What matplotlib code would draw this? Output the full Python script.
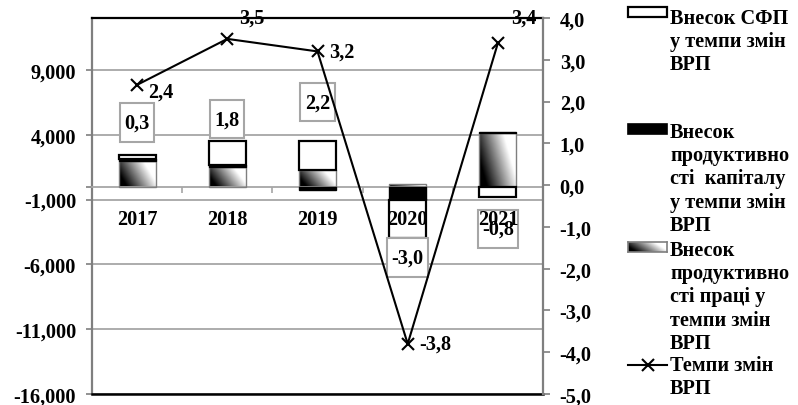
import numpy as np
import matplotlib
matplotlib.use("Agg")
import matplotlib.pyplot as plt
from matplotlib.patches import Rectangle
from matplotlib.lines import Line2D
from matplotlib.path import Path
from matplotlib.ticker import FuncFormatter

# values (percentage points)
years = ["2017", "2018", "2019", "2020", "2021"]
tfp = [0.3, 1.8, 2.2, -3.0, -0.8]          # Внесок СФП
capital = [0.1, 0.2, -0.3, -1.0, 0.1]      # Внесок продуктивності капіталу
labour = [2.0, 1.5, 1.3, 0.2, 4.1]         # Внесок продуктивності праці
grp_growth = [2.4, 3.5, 3.2, -3.8, 3.4]    # Темпи змін ВРП

left_ticks = [-16, -11, -6, -1, 4, 9]
right_ticks = [-5, -4, -3, -2, -1, 0, 1, 2, 3, 4]

# label placement (pixels), layout only
tfp_label_dy = [33, 22, 39, -19, -32]
growth_label_off = [(11, -7), (12, 21), (12, 0), (12, 0), (13, 25)]

W, H = 798, 406
FONT = "Liberation Serif"
FS = 14.6
GRID = "#a6a6a6"
AXC = "#7f7f7f"

plt.rcParams["font.family"] = [FONT, "DejaVu Serif"]
plt.rcParams["font.weight"] = "bold"


def comma(v, nd):
    return "{:.{}f}".format(v, nd).replace(".", ",")


def px2pt(p):
    return p * 72.0 / 100.0


def gradient(nx=60, ny=60):
    u = np.linspace(0, 1, nx)[None, :]
    v = np.linspace(0, 1, ny)[:, None]
    return np.clip(-0.25 + 1.35 * (0.85 * u + 0.35 * v), 0, 1)


def tall_box(x0, y0, width, height, mutation_size):
    # label box: narrow side padding, tall top/bottom padding
    padx, pady = 0.22 * mutation_size, 0.45 * mutation_size
    xa, xb = x0 - padx, x0 + width + padx
    ya, yb = y0 - pady, y0 + height + pady
    return Path([(xa, ya), (xb, ya), (xb, yb), (xa, yb), (xa, ya)], closed=True)


fig = plt.figure(figsize=(W / 100, H / 100), dpi=100)
ax = fig.add_axes([92 / W, 1 - 395 / H, (543 - 92) / W, (395 - 19) / H])
x = np.arange(len(years))
bw = 0.41

# stacked bars, positives and negatives stacked separately
pos_base = np.zeros(len(years))
neg_base = np.zeros(len(years))
containers = {}
for name, vals in [("labour", labour), ("capital", capital), ("tfp", tfp)]:
    vals = np.array(vals)
    bottoms = np.where(vals >= 0, pos_base, neg_base)
    if name == "labour":
        bars = ax.bar(x, vals, bw, bottom=bottoms, facecolor="none",
                      edgecolor=AXC, lw=1.0, zorder=3)
    elif name == "capital":
        bars = ax.bar(x, vals, bw, bottom=bottoms, facecolor="black",
                      edgecolor="black", lw=1.0, zorder=3)
    else:
        bars = ax.bar(x, vals, bw, bottom=bottoms, facecolor="white",
                      edgecolor="black", lw=1.6, zorder=3)
    containers[name] = bars
    pos_base = pos_base + np.where(vals >= 0, vals, 0)
    neg_base = neg_base + np.where(vals < 0, vals, 0)

# gradient fill for labour bars
for rect in containers["labour"]:
    x0, y0 = rect.get_xy()
    w, h = rect.get_width(), rect.get_height()
    im = ax.imshow(gradient(), extent=(x0, x0 + w, min(y0, y0 + h), max(y0, y0 + h)),
                   cmap="gray", vmin=0, vmax=1, aspect="auto", origin="lower",
                   interpolation="bicubic", zorder=2.5)
    im.set_clip_path(rect)

# TFP labels in boxes
for i, v in enumerate(tfp):
    end = pos_base[i] if v >= 0 else neg_base[i]
    ax.annotate(comma(v, 1), (i, end), xytext=(0, px2pt(tfp_label_dy[i])),
                textcoords="offset points", ha="center", va="center",
                fontsize=FS, fontweight="bold", zorder=6,
                bbox=dict(boxstyle=tall_box, fc="white", ec=GRID, lw=1.5))

ax.set_xlim(-0.5, len(years) - 0.5)
ax.set_ylim(-16, 13)
ax.set_yticks(left_ticks)
ax.set_yticks([0], minor=True)
ax.yaxis.set_major_formatter(FuncFormatter(lambda v, p: comma(v, 3)))
ax.yaxis.grid(True, color=GRID, lw=1.3)
ax.set_axisbelow(True)
ax.tick_params(axis="y", which="both", length=4.5, width=1.2, color=AXC, pad=7,
               labelsize=FS)
ax.tick_params(axis="y", which="minor", labelleft=False)

ax.set_xticks(x)
ax.set_xticklabels([])
ax.set_xticks(x[:-1] + 0.5, minor=True)
ax.tick_params(axis="x", which="major", length=0)
ax.tick_params(axis="x", which="minor", length=4, width=1.2, color=GRID)
for i, yr in enumerate(years):
    ax.annotate(yr, (i, 0), xytext=(0, -px2pt(22)), textcoords="offset points",
                ha="center", va="top", fontsize=FS, fontweight="bold", zorder=7)

ax.spines["bottom"].set_position(("data", 0))
ax.spines["bottom"].set_color(GRID)
ax.spines["bottom"].set_linewidth(1.3)
ax.spines["top"].set_color("black")
ax.spines["top"].set_linewidth(1.6)
ax.spines["left"].set_color(AXC)
ax.spines["left"].set_linewidth(1.6)
ax.spines["right"].set_visible(False)
ax.axhline(-16, color="black", lw=1.8, clip_on=False, zorder=5)

# growth line on the right axis
ax2 = ax.twinx()
ax2.plot(x, grp_growth, color="black", lw=1.5, marker="x", ms=9, mew=1.5,
         zorder=4)
for i, v in enumerate(grp_growth):
    dx, dy = growth_label_off[i]
    ax2.annotate(comma(v, 1), (i, v), xytext=(px2pt(dx), px2pt(dy)),
                 textcoords="offset points", ha="left", va="center",
                 fontsize=FS, fontweight="bold", annotation_clip=False)
ax2.set_ylim(-5, 4)
ax2.set_yticks(right_ticks)
ax2.yaxis.set_major_formatter(FuncFormatter(lambda v, p: comma(v, 1)))
ax2.tick_params(axis="y", length=5, width=1.2, color=AXC, pad=7, labelsize=FS)
for s in ["top", "bottom", "left"]:
    ax2.spines[s].set_visible(False)
ax2.spines["right"].set_color(AXC)
ax2.spines["right"].set_linewidth(1.6)

# legend drawn by hand on the figure
legend_labels = [
    ["Внесок СФП", "у темпи змін", "ВРП"],
    ["Внесок", "продуктивно", "сті  капіталу", "у темпи змін", "ВРП"],
    ["Внесок", "продуктивно", "сті праці у", "темпи змін", "ВРП"],
    ["Темпи змін", "ВРП"],
]
legend_y = [18.5, 132.5, 250.5, 366]
legend_key_y = [13, 130, 248, 366]
line_step = 23.4
lx0, lx1, tx = 628, 667, 670


def fxy(px, py):
    return px / W, 1 - py / H


for lines, y0 in zip(legend_labels, legend_y):
    for k, t in enumerate(lines):
        fx, fy = fxy(tx, y0 + k * line_step)
        fig.text(fx, fy, t, ha="left", va="center", fontsize=FS,
                 fontweight="bold")

fx, fy = fxy(lx0, legend_key_y[0] + 5)
fig.add_artist(Rectangle((fx, fy), (lx1 - lx0) / W, 10 / H,
                         transform=fig.transFigure, fc="white", ec="black", lw=1.6))
fx, fy = fxy(lx0, legend_key_y[1] + 5)
fig.add_artist(Rectangle((fx, fy), (lx1 - lx0) / W, 10 / H,
                         transform=fig.transFigure, fc="black", ec="black", lw=1.2))
fx, fy = fxy(lx0, legend_key_y[2] + 5)
lax = fig.add_axes([fx, fy, (lx1 - lx0) / W, 10 / H])
lax.imshow(gradient()[::-1], cmap="gray", vmin=0, vmax=1, aspect="auto",
           interpolation="bicubic")
lax.set_xticks([])
lax.set_yticks([])
for s in lax.spines.values():
    s.set_color(AXC)
    s.set_linewidth(1.2)
fxa, fy = fxy(lx0, legend_key_y[3])
fxb, _ = fxy(lx1, legend_key_y[3])
fig.add_artist(Line2D([fxa, fxb], [fy, fy], transform=fig.transFigure,
                      color="black", lw=1.5))
fig.add_artist(Line2D([(fxa + fxb) / 2], [fy], transform=fig.transFigure,
                      color="black", marker="x", ms=9, mew=1.5))

fig.savefig("out.png", dpi=100)
